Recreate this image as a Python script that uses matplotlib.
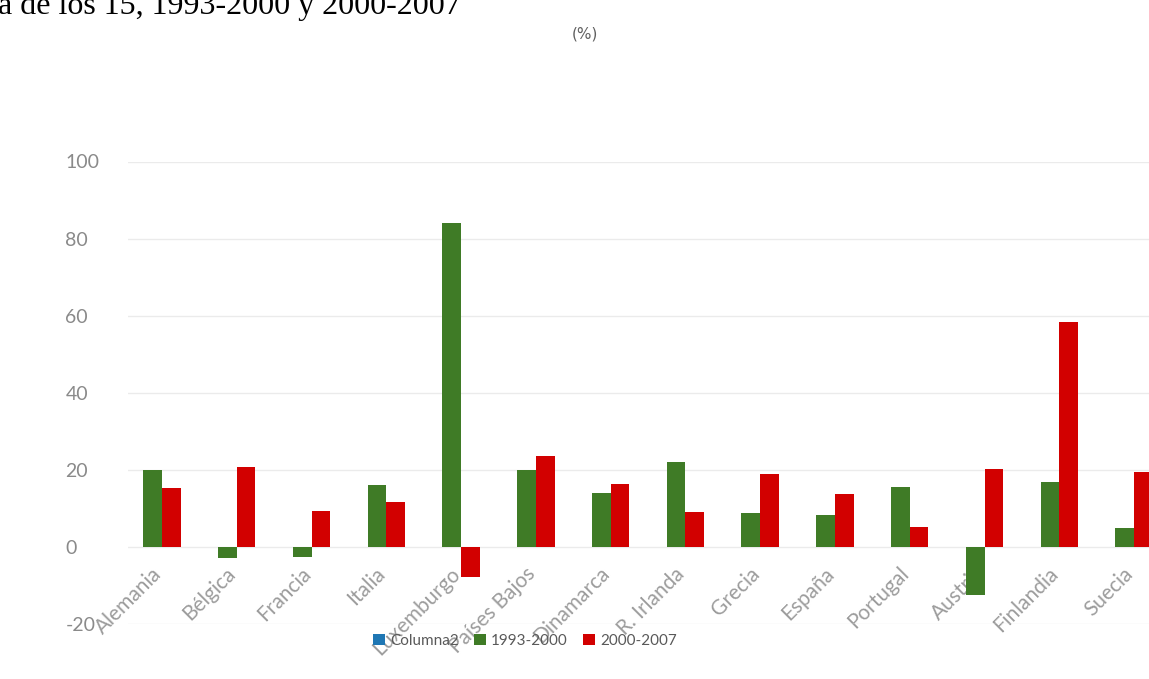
import matplotlib
matplotlib.use("Agg")
import matplotlib.pyplot as plt
import matplotlib.transforms as mtransforms
import numpy as np

# ---- data ----
countries = ["Alemania", "Bélgica", "Francia", "Italia", "Luxemburgo", "Países Bajos",
             "Dinamarca", "R. Irlanda", "Grecia", "España", "Portugal", "Austria",
             "Finlandia", "Suecia"]
s_1993_2000 = [20.0, -2.9, -2.5, 16.0, 84.0, 20.0, 14.0, 22.0, 8.8, 8.2, 15.6, -12.5, 16.8, 5.0]
s_2000_2007 = [15.4, 20.7, 9.2, 11.7, -7.8, 23.5, 16.2, 9.0, 19.0, 13.6, 5.2, 20.2, 58.4, 19.4]
series_names = ["Columna2", "1993-2000", "2000-2007"]
yticks = [-20, 0, 20, 40, 60, 80, 100]
title_text = "a de los 15, 1993-2000 y 2000-2007"
unit_text = "(%)"

# ---- figure ----
W, H = 1149, 679
fig = plt.figure(figsize=(W / 100, H / 100), dpi=100)
fig.patch.set_facecolor("white")

ax_left, ax_right = 128 / W, 1.0
ax_bottom, ax_top = 1 - 624 / H, 1 - 161.5 / H
ax = fig.add_axes([ax_left, ax_bottom, ax_right - ax_left, ax_top - ax_bottom])

x = np.arange(len(countries))
bw = 0.25
green = "#3f7b26"
red = "#d20000"
blue = "#5b9bd5"

ax.bar([], [], color=blue, label=series_names[0])
ax.bar(x - bw / 2, s_1993_2000, width=bw, color=green, label=series_names[1], zorder=3)
ax.bar(x + bw / 2, s_2000_2007, width=bw, color=red, label=series_names[2], zorder=3)

ax.set_ylim(-20, 100)
ax.set_xlim(-0.455, 13.2)
ax.set_yticks(yticks)
ax.set_yticklabels([str(v) for v in yticks])
ax.grid(axis="y", color="#ebebeb", lw=1, zorder=0)
ax.set_axisbelow(True)

for s in ["top", "right", "left"]:
    ax.spines[s].set_visible(False)
ax.spines["bottom"].set_position(("data", 0))
ax.spines["bottom"].set_color("none")

ax.set_xticks(x)
ax.set_xticklabels(countries, rotation=45, ha="right", va="top",
                   rotation_mode="anchor", color="#9c9c9c", fontsize=15,
                   family="Lato")
ax.tick_params(axis="x", length=0, pad=12)
offset = mtransforms.ScaledTranslation(-11 / 100, 0, fig.dpi_scale_trans)
for lbl in ax.get_xticklabels():
    lbl.set_transform(lbl.get_transform() + offset)

ax.tick_params(axis="y", length=0, pad=45, labelsize=14, labelcolor="#8a8a8a")
for lbl in ax.get_yticklabels():
    lbl.set_horizontalalignment("left")
    lbl.set_family("Lato")

leg = fig.legend(loc="center", bbox_to_anchor=(525 / W, 1 - 641 / H), ncol=3,
                 frameon=False, prop={"family": "Lato", "size": 11},
                 handlelength=0.78, handleheight=0.78,
                 handletextpad=0.35, columnspacing=1.0)
for t in leg.get_texts():
    t.set_color("#595959")

fig.text(-2 / W, 1 - 14 / H, title_text, fontsize=23, family="Liberation Serif",
         color="black", ha="left", va="baseline")
fig.text(585 / W, 1 - 34 / H, unit_text, fontsize=11, color="#606060",
         ha="center", va="center")

fig.savefig("out.png", dpi=100, facecolor="white")
